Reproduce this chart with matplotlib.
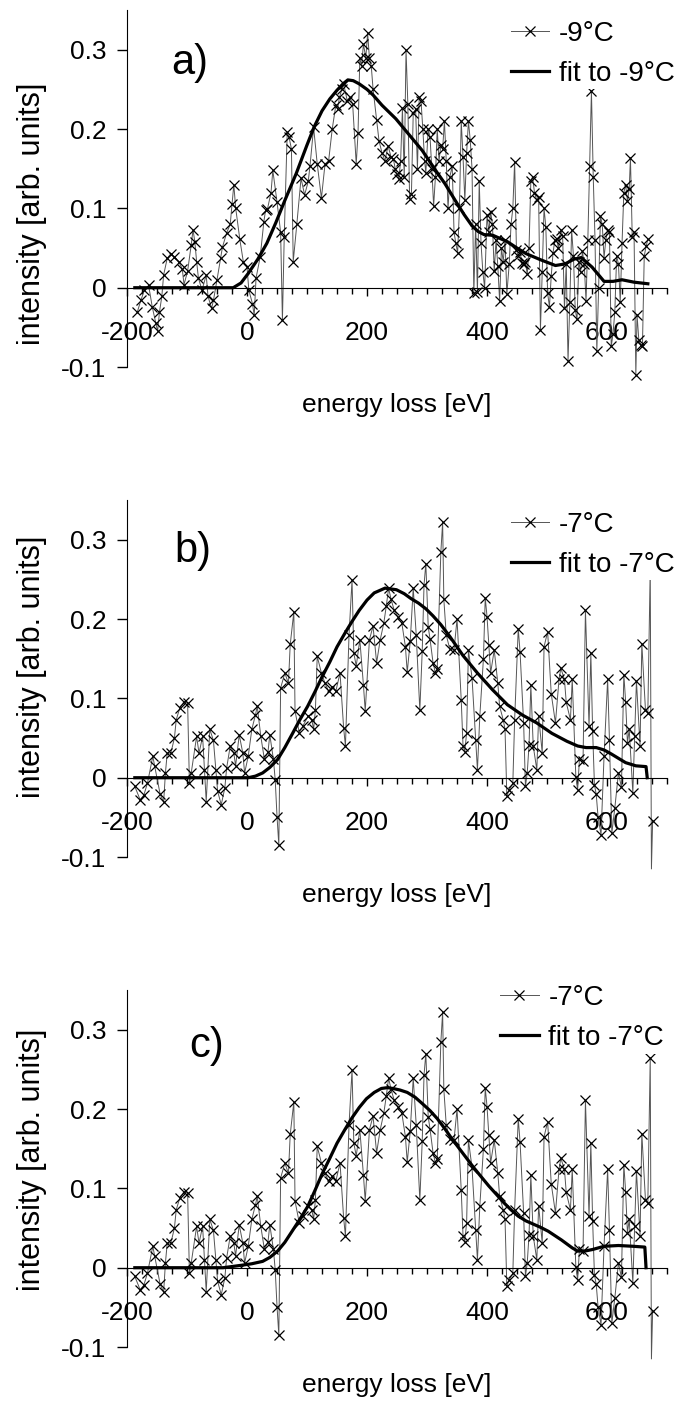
import numpy as np
import matplotlib
matplotlib.use("Agg")
import matplotlib.pyplot as plt
from matplotlib.ticker import MultipleLocator, FixedLocator

plt.rcParams['font.family'] = ['Liberation Sans', 'DejaVu Sans']
plt.rcParams['axes.unicode_minus'] = False

# -------------------------
# DATA
# -------------------------

# -9°C measurement
e_m9 = [-183, -177, -171, -164, -158, -152, -149, -146, -142, -139, -133, -127, -121, -114, -108,
        -105, -99, -93, -90, -87, -84, -81, -75, -68, -65, -59, -56, -50, -44, -41, -34, -28, -25,
        -22, -19, -12, -6, 0, 3, 9, 12, 15, 22, 28, 31, 34, 40, 43, 50, 56, 59, 62, 67, 70, 74, 77,
        83, 90, 96, 102, 105, 111, 117, 124, 130, 136, 142, 148, 151, 154, 158, 161, 167, 171, 176,
        182, 185, 188, 191, 194, 198, 201, 204, 207, 210, 216, 220, 225, 230, 235, 240, 244, 247,
        250, 253, 256, 259, 262, 265, 268, 271, 274, 277, 281, 284, 287, 290, 293, 296, 298, 302,
        305, 308, 311, 314, 317, 320, 323, 326, 329, 332, 335, 338, 342, 345, 348, 351, 354, 357,
        360, 363, 366, 369, 372, 375, 378, 381, 384, 387, 390, 393, 396, 400, 403, 406, 409, 412,
        415, 418, 421, 424, 427, 430, 433, 437, 440, 443, 446, 449, 452, 455, 458, 461, 464, 467,
        470, 473, 476, 479, 483, 486, 489, 492, 495, 498, 501, 504, 507, 510, 513, 516, 519, 523,
        526, 529, 532, 535, 538, 541, 544, 547, 550, 553, 556, 559, 562, 565, 568, 571, 574, 577,
        580, 583, 586, 589, 592, 595, 598, 601, 604, 607, 610, 613, 616, 619, 622, 625, 628, 631,
        634, 637, 639, 642, 645, 648, 650, 653, 656, 659, 662, 665, 668]
i_m9 = [-0.031, -0.016, -0.003, 0.003, -0.024, -0.045, -0.055, -0.031, -0.011, 0.016, 0.037, 0.043,
        0.039, 0.033, 0.024, 0.004, 0.021, 0.054, 0.073, 0.058, 0.033, 0.012, -0.003, 0.016, -0.011,
        -0.026, -0.016, 0.010, 0.037, 0.051, 0.069, 0.080, 0.105, 0.130, 0.101, 0.061, 0.032, 0.026,
        -0.003, -0.020, -0.035, 0.012, 0.039, 0.083, 0.098, 0.099, 0.120, 0.148, 0.108, 0.070,
        -0.041, 0.064, 0.196, 0.190, 0.175, 0.033, 0.080, 0.138, 0.117, 0.134, 0.154, 0.202, 0.156,
        0.113, 0.156, 0.160, 0.200, 0.230, 0.225, 0.240, 0.250, 0.257, 0.236, 0.240, 0.232, 0.156,
        0.195, 0.289, 0.280, 0.307, 0.290, 0.321, 0.289, 0.280, 0.251, 0.212, 0.185, 0.170, 0.160,
        0.179, 0.165, 0.162, 0.150, 0.143, 0.137, 0.160, 0.226, 0.140, 0.300, 0.232, 0.112, 0.118,
        0.220, 0.225, 0.150, 0.240, 0.235, 0.200, 0.160, 0.145, 0.200, 0.190, 0.150, 0.103, 0.140,
        0.200, 0.160, 0.180, 0.175, 0.210, 0.160, 0.100, 0.140, 0.153, 0.070, 0.056, 0.044, 0.100,
        0.210, 0.165, 0.110, 0.170, 0.210, 0.186, 0.150, -0.007, 0.080, -0.005, 0.135, 0.056, 0.020,
        0.000, 0.092, 0.070, 0.096, 0.080, 0.021, 0.060, 0.027, -0.017, 0.050, 0.033, 0.060, -0.008,
        0.030, 0.080, 0.100, 0.159, 0.048, 0.040, 0.045, 0.031, 0.030, 0.032, 0.017, 0.050, 0.135,
        0.140, 0.120, 0.110, 0.115, -0.053, 0.020, 0.100, 0.077, -0.007, -0.024, 0.015, 0.044, 0.060,
        0.061, 0.050, 0.073, 0.065, -0.026, 0.030, -0.092, -0.018, 0.073, 0.040, -0.028, -0.040,
        0.033, 0.020, 0.046, 0.030, -0.017, 0.060, 0.154, 0.248, 0.140, 0.060, -0.080, 0.000, 0.090,
        0.080, 0.038, 0.060, 0.073, 0.070, -0.074, -0.058, -0.030, 0.040, 0.030, -0.018, 0.056,
        0.120, 0.130, 0.109, 0.125, 0.164, 0.064, 0.070, -0.110, -0.034, -0.066, -0.072, -0.074,
        0.040, 0.052, 0.061]

# -7°C measurement (same data in panels b and c)
e_m7 = [-187, -178, -172, -166, -157, -154, -145, -139, -136, -133, -127, -121, -118, -112, -105,
        -99, -96, -93, -84, -80, -74, -71, -68, -62, -56, -52, -49, -43, -37, -34, -28, -22, -19,
        -13, -7, -4, 2, 8, 14, 17, 23, 29, 35, 38, 44, 47, 50, 53, 56, 63, 69, 72, 78, 80, 87, 93,
        102, 108, 111, 114, 117, 124, 130, 136, 142, 148, 155, 161, 164, 170, 175, 178, 182, 188,
        194, 197, 204, 210, 216, 222, 228, 232, 236, 240, 245, 252, 258, 264, 267, 272, 277, 282,
        288, 292, 295, 298, 302, 305, 310, 314, 317, 323, 326, 328, 332, 338, 345, 350, 357, 360,
        363, 366, 369, 375, 381, 384, 388, 394, 397, 400, 403, 406, 412, 418, 421, 427, 430, 433,
        437, 443, 446, 452, 455, 461, 464, 467, 470, 473, 477, 483, 486, 492, 495, 501, 507, 514,
        520, 523, 529, 532, 539, 542, 548, 551, 554, 560, 564, 570, 573, 576, 579, 582, 585, 590,
        595, 601, 604, 608, 613, 619, 624, 628, 631, 634, 637, 643, 646, 649, 655, 658, 664, 668,
        672, 674, 676]
i_m7 = [-0.011, -0.028, -0.022, -0.007, 0.027, 0.015, -0.020, -0.031, 0.006, 0.031, 0.031, 0.050,
        0.073, 0.088, 0.096, 0.094, -0.007, 0.006, 0.052, 0.031, 0.052, 0.010, -0.030, 0.061, 0.047,
        0.010, -0.017, -0.034, -0.013, 0.012, 0.040, 0.031, 0.015, 0.054, 0.031, 0.006, 0.027, 0.061,
        0.079, 0.090, 0.052, 0.023, 0.033, 0.054, 0.023, -0.003, -0.049, -0.085, 0.113, 0.132, 0.119,
        0.168, 0.209, 0.084, 0.057, 0.065, 0.078, 0.073, 0.061, 0.086, 0.153, 0.132, 0.119, 0.109,
        0.115, 0.109, 0.132, 0.063, 0.040, 0.180, 0.249, 0.157, 0.141, 0.174, 0.117, 0.084, 0.174,
        0.191, 0.145, 0.174, 0.195, 0.216, 0.239, 0.225, 0.212, 0.202, 0.195, 0.165, 0.133, 0.172,
        0.239, 0.180, 0.085, 0.160, 0.243, 0.270, 0.190, 0.175, 0.145, 0.132, 0.137, 0.284, 0.322,
        0.225, 0.180, 0.162, 0.161, 0.200, 0.098, 0.040, 0.033, 0.057, 0.161, 0.126, 0.048, 0.010,
        0.078, 0.150, 0.227, 0.203, 0.167, 0.132, 0.161, 0.119, 0.090, 0.073, 0.061, -0.023, -0.015,
        -0.007, 0.073, 0.188, 0.159, 0.069, -0.011, 0.006, 0.041, 0.117, 0.040, 0.010, 0.078, 0.031,
        0.165, 0.184, 0.106, 0.069, 0.124, 0.138, 0.124, 0.095, 0.073, 0.124, 0.001, -0.015, 0.023,
        0.021, 0.211, 0.065, 0.157, 0.059, -0.009, -0.021, -0.049, -0.072, 0.027, 0.124, 0.048,
        -0.070, -0.038, 0.006, -0.012, 0.130, 0.096, 0.044, 0.061, -0.019, 0.052, 0.122, 0.040,
        0.169, 0.086, 0.082, 0.265, -0.115, -0.055]

# fits
fit_a_e = [-187, -23, -10, 2, 18, 33, 48, 63, 82, 100, 112, 125, 138, 150, 160, 168, 177, 187,
           200, 210, 225, 248, 270, 292, 317, 330, 347, 362, 375, 385, 395, 410, 434, 450, 465,
           490, 514, 530, 545, 557, 575, 595, 610, 625, 645, 668]
fit_a_i = [0.0, 0.0, 0.006, 0.018, 0.036, 0.056, 0.082, 0.110, 0.144, 0.180, 0.203, 0.223, 0.238,
           0.249, 0.257, 0.262, 0.261, 0.257, 0.250, 0.243, 0.230, 0.213, 0.193, 0.173, 0.145,
           0.131, 0.110, 0.092, 0.078, 0.071, 0.067, 0.066, 0.058, 0.050, 0.043, 0.035, 0.028,
           0.030, 0.036, 0.038, 0.026, 0.008, 0.008, 0.010, 0.007, 0.005]

fit_b_e = [-187, 2, 14, 26, 38, 51, 63, 76, 88, 101, 113, 125, 138, 150, 163, 175, 187, 200, 212,
           230, 249, 262, 273, 286, 298, 310, 323, 338, 360, 384, 409, 434, 459, 483, 508, 533,
           551, 565, 582, 595, 607, 620, 631, 648, 665, 667]
fit_b_i = [0.0, 0.0, 0.002, 0.006, 0.013, 0.023, 0.038, 0.056, 0.073, 0.090, 0.108, 0.127, 0.146,
           0.165, 0.182, 0.197, 0.211, 0.224, 0.233, 0.239, 0.237, 0.232, 0.226, 0.220, 0.213,
           0.204, 0.193, 0.178, 0.154, 0.132, 0.111, 0.092, 0.079, 0.069, 0.056, 0.046, 0.040,
           0.038, 0.038, 0.035, 0.030, 0.024, 0.019, 0.015, 0.014, 0.0]

fit_c_e = [-187, -40, -10, 8, 26, 38, 51, 63, 76, 88, 101, 113, 125, 138, 150, 163, 175, 187,
           199, 212, 224, 234, 243, 255, 267, 280, 292, 305, 317, 329, 341, 354, 366, 378, 391,
           403, 415, 428, 440, 452, 465, 477, 489, 502, 514, 524, 533, 542, 551, 563, 576, 595,
           619, 644, 663, 665]
fit_c_i = [0.0, 0.0, 0.003, 0.005, 0.008, 0.013, 0.021, 0.032, 0.047, 0.061, 0.077, 0.097, 0.118,
           0.138, 0.157, 0.174, 0.189, 0.202, 0.213, 0.221, 0.226, 0.227, 0.226, 0.224, 0.221,
           0.215, 0.207, 0.198, 0.188, 0.176, 0.163, 0.150, 0.138, 0.126, 0.114, 0.103, 0.093,
           0.082, 0.073, 0.065, 0.059, 0.055, 0.051, 0.046, 0.040, 0.035, 0.030, 0.025, 0.021,
           0.021, 0.023, 0.027, 0.028, 0.027, 0.026, 0.0]

panels = [
    ("a)", e_m9, i_m9, fit_a_e, fit_a_i, "-9°C", 0.7382, (-95, 0.283), 0.4286, (0.705, 0.978)),
    ("b)", e_m7, i_m7, fit_b_e, fit_b_i, "-7°C", 0.3887, (-90, 0.286), 0.532, (0.705, 0.975)),
    ("c)", e_m7, i_m7, fit_c_e, fit_c_i, "-7°C", 0.0392, (-67, 0.279), 0.524, (0.685, 1.022)),
]

# -------------------------
# PLOT
# -------------------------

fig = plt.figure(figsize=(6.84, 14.02), dpi=100)

for letter, ex, ix, fe, fi, temp, bottom, letter_pos, ylab_y, leg_pos in panels:
    ax = fig.add_axes([0.1857, bottom, 0.7895, 0.2546])

    skip = [k for k in range(len(ix)) if ix[k] > -0.112]
    ax.plot(ex, ix, color='#555555', lw=0.7, marker='x', ms=6.5, mec='black', mew=0.9,
            markevery=skip, clip_on=False, label=temp, zorder=2)
    ax.plot(fe, fi, color='black', lw=2.3, label="fit to " + temp, zorder=3)

    ax.set_xlim(-200, 700)
    ax.set_ylim(-0.1, 0.35)

    ax.spines['top'].set_visible(False)
    ax.spines['right'].set_visible(False)
    ax.spines['bottom'].set_position(('data', 0))
    ax.spines['left'].set_bounds(-0.1, 0.35)

    ax.xaxis.set_major_locator(FixedLocator([-200, 0, 200, 400, 600]))
    ax.xaxis.set_minor_locator(MultipleLocator(25))
    ax.set_xticklabels(['-200', '0', '200', '400', '600'])
    ax.tick_params(axis='x', which='major', direction='out', length=6, width=1, pad=18,
                   labelsize=19)
    ax.tick_params(axis='x', which='minor', direction='out', length=4, width=1)

    ax.set_yticks([-0.1, 0, 0.1, 0.2, 0.3])
    ax.set_yticklabels(['-0.1', '0', '0.1', '0.2', '0.3'])
    ax.tick_params(axis='y', direction='out', length=7, width=1, pad=8, labelsize=19)

    ax.text(letter_pos[0], letter_pos[1], letter, fontsize=30, ha='center', va='center')
    ax.text(-0.176, ylab_y, "intensity [arb. units]", rotation=90, fontsize=22,
            ha='center', va='center', transform=ax.transAxes)
    ax.text(0.5, -0.106, "energy loss [eV]", fontsize=19, ha='center', va='center',
            transform=ax.transAxes)

    leg = ax.legend(loc='upper left', bbox_to_anchor=leg_pos, fontsize=20, frameon=True,
                    handlelength=1.4, handletextpad=0.35, labelspacing=0.5, borderpad=0.1,
                    borderaxespad=0)
    leg.get_frame().set_edgecolor('none')
    leg.get_frame().set_facecolor('white')
    leg.get_frame().set_alpha(1)
    leg.set_zorder(5)

fig.savefig("out.png", dpi=100)
